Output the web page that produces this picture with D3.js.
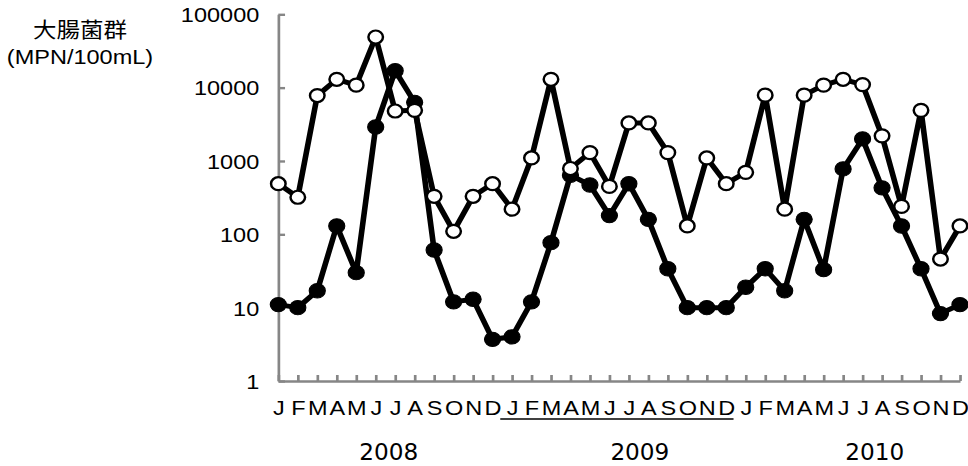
<!DOCTYPE html>
<html lang="ja">
<head>
<meta charset="UTF-8">
<title>大腸菌群 (MPN/100mL) 2008-2010</title>
<script src="https://d3js.org/d3.v7.min.js"></script>
<style>
  body { margin: 0; background: #fff; }
  svg { display: block; }
  .axis path, .axis line { stroke: #868686; stroke-width: 2.4; }
  .axis text { fill: #000; font-family: Arial, 'Liberation Sans', sans-serif; font-size: 21px; }
</style>
</head>
<body>
<div id="chart"></div>
<script>
  // 月・年ラベル
  const months = ["J", "F", "M", "A", "M", "J", "J", "A", "S", "O", "N", "D"];
  const years = ["2008", "2009", "2010"];
  const yTicks = [1, 10, 100, 1000, 10000, 100000];

  // 白丸の系列 (2008/1 - 2010/12)
  const openSeries = [490, 320, 7800, 13000, 10800, 49000, 4800, 4900, 330, 110, 330, 490,
                      220, 1100, 13000, 790, 1300, 450, 3300, 3300, 1300, 130, 1100, 490,
                      700, 7900, 220, 7900, 10800, 13000, 11000, 2200, 240, 4900, 46, 130];
  // 黒丸の系列
  const filledSeries = [11, 10, 17, 130, 30, 2900, 17000, 6300, 61, 12, 13, 3.7,
                        4.0, 12, 77, 640, 470, 180, 490, 160, 34, 10, 10, 10,
                        19, 34, 17, 160, 33, 780, 2000, 430, 130, 34, 8.3, 11];

  // the reference is stretched horizontally, so draw in a narrower viewBox
  const sx = 1.12;
  const W = 968, H = 466, w = W / sx;

  const svg = d3.select("#chart").append("svg")
    .attr("width", W).attr("height", H)
    .attr("viewBox", `0 0 ${w} ${H}`)
    .attr("preserveAspectRatio", "none");

  const n = openSeries.length;
  const x = d3.scaleLinear().domain([0, n - 1]).range([248.5, 857.1]);
  const y = d3.scaleLog().domain([1, 100000]).range([381, 14.3]);

  // y axis
  svg.append("g")
    .attr("class", "axis")
    .attr("transform", `translate(${x(0)},0)`)
    .call(d3.axisLeft(y).tickValues(yTicks).tickFormat(d3.format("d"))
      .tickSizeInner(-6).tickSizeOuter(0).tickPadding(17))
    .call(g => g.selectAll("text").attr("dy", "0.35em"));

  // x axis
  svg.append("g")
    .attr("class", "axis")
    .attr("transform", `translate(0,${y(1)})`)
    .call(d3.axisBottom(x).tickValues(d3.range(n)).tickFormat(i => months[i % 12])
      .tickSizeInner(-6).tickSizeOuter(0).tickPadding(19));

  // underline below the 2009 months
  svg.append("line")
    .attr("x1", x(12) - 10.5).attr("x2", x(23) + 6.5)
    .attr("y1", 419).attr("y2", 419)
    .attr("stroke", "#000").attr("stroke-width", 1.6);

  // year labels
  const yearShift = [3, 18.5, 19.5];
  svg.selectAll(".year")
    .data(years)
    .join("text")
    .attr("class", "year")
    .attr("x", (d, k) => x(k * 12 + 5.5) + yearShift[k])
    .attr("y", 460)
    .attr("text-anchor", "middle")
    .style("font-family", "'Liberation Sans Narrow', 'DejaVu Sans Condensed', sans-serif")
    .style("font-stretch", "condensed")
    .style("font-size", "23px")
    .text(d => d);

  // y axis title
  svg.append("text")
    .attr("x", 71.4).attr("y", 37)
    .attr("text-anchor", "middle")
    .style("font-family", "'Noto Sans CJK JP', sans-serif")
    .style("font-size", "21px")
    .text("大腸菌群");
  svg.append("text")
    .attr("x", 71.4).attr("y", 64)
    .attr("text-anchor", "middle")
    .style("font-family", "Arial, 'Liberation Sans', sans-serif")
    .style("font-size", "21px")
    .text("(MPN/100mL)");

  const line = d3.line()
    .x((d, i) => x(i))
    .y(d => y(d));

  // filled series drawn first, open series on top
  const drawSeries = (data, fill, r, sw) => {
    svg.append("path")
      .datum(data)
      .attr("d", line)
      .attr("fill", "none")
      .attr("stroke", "#000")
      .attr("stroke-width", 5)
      .attr("stroke-linejoin", "round");

    svg.append("g")
      .selectAll("circle")
      .data(data)
      .join("circle")
      .attr("cx", (d, i) => x(i))
      .attr("cy", d => y(d))
      .attr("r", r)
      .attr("fill", fill)
      .attr("stroke", "#000")
      .attr("stroke-width", sw);
  };

  drawSeries(filledSeries, "#000", 7.2, 1);
  drawSeries(openSeries, "#fff", 6.5, 2.2);
</script>
</body>
</html>
